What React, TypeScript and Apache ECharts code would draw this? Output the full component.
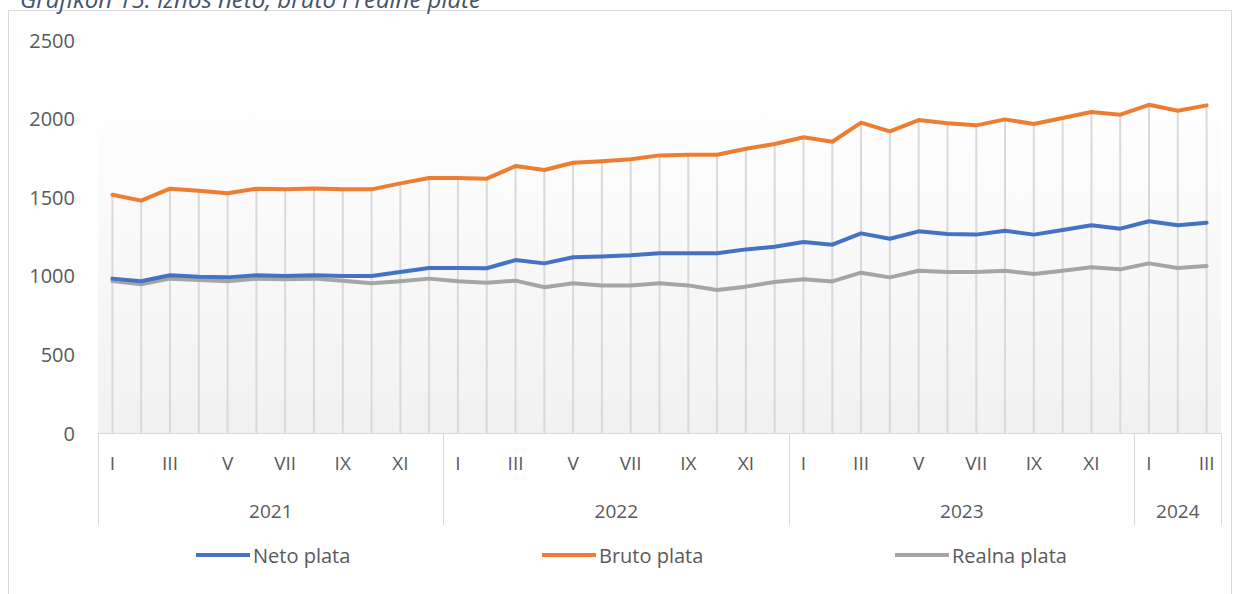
import React, { useEffect, useRef } from 'react';
import * as echarts from 'echarts';

const romans = ['I', 'II', 'III', 'IV', 'V', 'VI', 'VII', 'VIII', 'IX', 'X', 'XI', 'XII'];
const years = ['2021', '2022', '2023', '2024'];
const monthsPerYear = [12, 12, 12, 3];

const netoPlata = [
  982, 965, 1003, 994, 990, 1003, 999, 1003, 999, 999, 1024, 1050,
  1050, 1048, 1100, 1079, 1118, 1122, 1130, 1143, 1143, 1143, 1168, 1185,
  1215, 1198, 1270, 1236, 1283, 1266, 1262, 1287, 1262, 1291, 1321, 1300,
  1347, 1321, 1338,
];
const brutoPlata = [
  1516, 1478, 1554, 1541, 1525, 1554, 1550, 1556, 1550, 1550, 1588, 1622,
  1622, 1618, 1698, 1673, 1719, 1728, 1741, 1766, 1770, 1770, 1808, 1838,
  1881, 1853, 1974, 1919, 1991, 1970, 1957, 1995, 1966, 2004, 2042, 2025,
  2088, 2050, 2084,
];
const realnaPlata = [
  967, 946, 982, 973, 965, 982, 978, 982, 969, 952, 965, 982,
  965, 956, 969, 927, 952, 939, 939, 952, 939, 910, 931, 961,
  978, 964, 1020, 990, 1032, 1024, 1024, 1032, 1011, 1032, 1054, 1041,
  1079, 1050, 1062,
];

const seriesNames = ['Neto plata', 'Bruto plata', 'Realna plata'];
const titleText = 'Grafikon 15: Iznos neto, bruto i realne plate';

const months: string[] = [];
monthsPerYear.forEach((n) => {
  for (let i = 0; i < n; i++) months.push(romans[i]);
});

const boundaries: number[] = [];
const yearCenters: number[] = [];
{
  let start = 0;
  monthsPerYear.forEach((n) => {
    boundaries.push(start);
    yearCenters.push(start + (n - 1) / 2);
    start += n;
  });
}

const FONT = '"Open Sans", "Liberation Sans", sans-serif';
const TEXT = '#595959';

export default function App() {
  const ref = useRef<HTMLDivElement>(null);
  useEffect(() => {
    if (!ref.current) return;
    const chart = echarts.init(ref.current, undefined, { renderer: 'svg' });
    const dropValues = brutoPlata.map((b, i) => Math.max(b, netoPlata[i], realnaPlata[i]));
    chart.setOption({
      animation: false,
      textStyle: { fontFamily: FONT },
      graphic: [
        {
          type: 'rect',
          z: -10,
          shape: { x: 8.5, y: 10.5, width: 1223, height: 620 },
          style: { fill: '#ffffff', stroke: '#d9d9d9', lineWidth: 1 },
        },
        {
          type: 'rect',
          z: -5,
          shape: { x: 98, y: 90, width: 1123, height: 343 },
          style: {
            fill: new echarts.graphic.LinearGradient(0, 0, 0, 1, [
              { offset: 0, color: '#ffffff' },
              { offset: 1, color: '#f1f1f1' },
            ]),
          },
        },
        {
          type: 'text',
          x: 20,
          y: 10,
          style: {
            text: titleText,
            fontFamily: FONT,
            fontStyle: 'italic',
            fontSize: 24,
            fill: '#44546A',
            verticalAlign: 'bottom',
          },
        },
      ],
      grid: { left: 98, right: 14, top: 40, bottom: 161, containLabel: false },
      legend: seriesNames.map((name, i) => ({
        data: [name],
        left: [196, 542, 895][i],
        top: 545,
        padding: 0,
        icon: 'rect',
        itemWidth: 54,
        itemHeight: 4,
        itemGap: 0,
        textStyle: { fontSize: 20, color: TEXT, fontFamily: FONT, padding: [0, 0, 0, -2] },
      })),
      xAxis: [
        {
          type: 'category',
          data: months,
          boundaryGap: true,
          axisLine: { show: true, lineStyle: { color: '#d9d9d9', width: 1 } },
          axisTick: {
            show: true,
            interval: (index: number) => boundaries.includes(index),
            length: 92,
            lineStyle: { color: '#d9d9d9', width: 1 },
          },
          axisLabel: {
            interval: 1,
            margin: 20,
            fontSize: 19,
            color: TEXT,
            fontFamily: FONT,
          },
          splitLine: { show: false },
        },
        {
          type: 'value',
          position: 'bottom',
          min: -0.5,
          max: 38.5,
          interval: 0.5,
          axisLine: { show: false },
          axisTick: { show: false },
          splitLine: { show: false },
          axisLabel: {
            margin: 68,
            fontSize: 19,
            color: TEXT,
            fontFamily: FONT,
            showMinLabel: true,
            showMaxLabel: true,
            formatter: (v: number) => {
              const idx = yearCenters.findIndex((c) => Math.abs(c - v) < 1e-6);
              return idx >= 0 ? years[idx] : '';
            },
          },
        },
      ],
      yAxis: {
        type: 'value',
        min: 0,
        max: 2500,
        interval: 500,
        axisLine: { show: false },
        axisTick: { show: false },
        splitLine: { show: false },
        axisLabel: {
          fontSize: 20,
          color: TEXT,
          fontFamily: FONT,
          margin: 23,
          formatter: (v: number) => String(v),
        },
      },
      series: [
        {
          type: 'bar',
          name: 'drop',
          data: dropValues,
          barWidth: 2,
          silent: true,
          z: 1,
          itemStyle: { color: '#d9d9d9' },
        },
        {
          type: 'line',
          name: seriesNames[0],
          data: netoPlata,
          symbol: 'none',
          z: 4,
          lineStyle: { color: '#4472C4', width: 4, join: 'round', cap: 'round' },
          itemStyle: { color: '#4472C4' },
        },
        {
          type: 'line',
          name: seriesNames[1],
          data: brutoPlata,
          symbol: 'none',
          z: 4,
          lineStyle: { color: '#ED7D31', width: 4, join: 'round', cap: 'round' },
          itemStyle: { color: '#ED7D31' },
        },
        {
          type: 'line',
          name: seriesNames[2],
          data: realnaPlata,
          symbol: 'none',
          z: 3,
          lineStyle: { color: '#A5A5A5', width: 4, join: 'round', cap: 'round' },
          itemStyle: { color: '#A5A5A5' },
        },
      ],
    });
    return () => chart.dispose();
  }, []);
  return (
    <div
      ref={ref}
      style={{ position: 'absolute', left: 0, top: 0, width: 1235, height: 594 }}
    />
  );
}
